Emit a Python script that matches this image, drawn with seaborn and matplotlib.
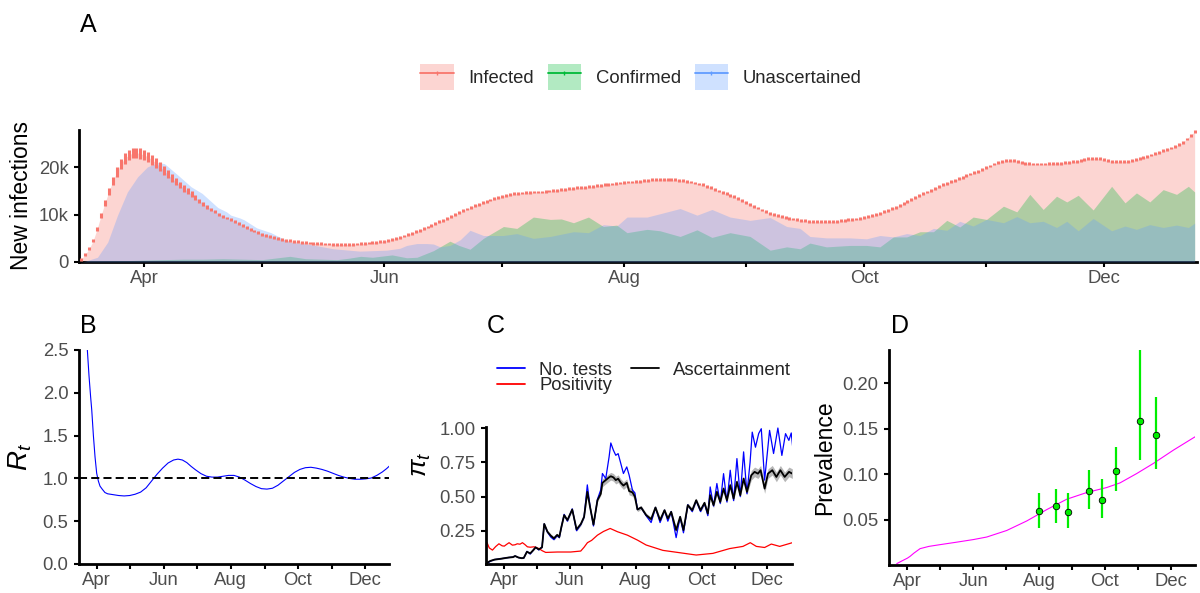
import numpy as np
import pandas as pd
import matplotlib
matplotlib.use("Agg")
import matplotlib.pyplot as plt
import seaborn as sns
from matplotlib.lines import Line2D
from matplotlib.patches import Patch

# ---------------- data ----------------
BASE = pd.Timestamp("2020-04-01")          # day 0
INFECTED_START = "2020-03-16"              # first daily estimate

# Panel A: daily new infections (thousands), from 16 Mar
infected_k = [
    0.6, 1.6, 2.8, 4.5, 7.0, 9.8, 12.5, 14.9, 17.1, 19.0, 20.7, 21.9, 22.6, 23.0, 23.1, 22.9,
    22.6, 22.2, 21.6, 20.9, 20.1, 19.3, 18.5, 17.7, 17.0, 16.3,
    15.6, 15.0, 14.3, 13.6, 12.9, 12.3, 11.7, 11.1, 10.6, 10.1,
    9.7, 9.3, 8.9, 8.5, 8.1, 7.7, 7.3, 6.9, 6.55, 6.2,
    5.9, 5.65, 5.4, 5.15, 4.95, 4.75, 4.6, 4.5, 4.4, 4.3,
    4.2, 4.1, 4.0, 3.95, 3.9, 3.85, 3.8, 3.8, 3.75, 3.7,
    3.7, 3.7, 3.7, 3.75, 3.8, 3.85, 3.9, 4.0, 4.1, 4.2,
    4.3, 4.4, 4.6, 4.8, 5.0, 5.2, 5.5, 5.8, 6.1, 6.4,
    6.7, 7.0, 7.4, 7.7, 8.1, 8.5, 8.8, 9.2, 9.6, 10.0,
    10.4, 10.8, 11.2, 11.5, 11.9, 12.2, 12.5, 12.8, 13.1, 13.4,
    13.6, 13.9, 14.1, 14.3, 14.4, 14.5, 14.6, 14.7, 14.7, 14.8,
    14.8, 14.8, 14.9, 15.0, 15.1, 15.2, 15.3, 15.4, 15.5, 15.6,
    15.7, 15.8, 15.8, 15.9, 16.0, 16.1, 16.2, 16.3, 16.4, 16.5,
    16.6, 16.7, 16.8, 16.9, 16.9, 17.0, 17.1, 17.2, 17.3, 17.4,
    17.4, 17.5, 17.5, 17.5, 17.4, 17.4, 17.3, 17.2, 17.0, 16.9,
    16.7, 16.5, 16.3, 16.0, 15.7, 15.4, 15.0, 14.7, 14.4, 14.1,
    13.8, 13.4, 13.0, 12.6, 12.2, 11.8, 11.4, 11.0, 10.6, 10.3,
    10.0, 9.8, 9.6, 9.4, 9.2, 9.1, 8.9, 8.8, 8.7, 8.6,
    8.5, 8.5, 8.5, 8.5, 8.5, 8.6, 8.6, 8.7, 8.8, 8.9,
    9.0, 9.1, 9.2, 9.4, 9.6, 9.8, 10.0, 10.3, 10.6, 10.9,
    11.3, 11.6, 12.0, 12.4, 12.8, 13.2, 13.6, 14.0, 14.4, 14.8,
    15.2, 15.6, 15.9, 16.3, 16.6, 17.0, 17.3, 17.6, 17.9, 18.3,
    18.6, 18.9, 19.2, 19.5, 19.9, 20.3, 20.7, 21.0, 21.3, 21.4,
    21.5, 21.5, 21.3, 21.1, 20.9, 20.8, 20.7, 20.7, 20.7, 20.7,
    20.8, 20.8, 20.9, 20.9, 21.0, 21.1, 21.2, 21.3, 21.5, 21.7,
    21.8, 21.9, 21.9, 21.8, 21.6, 21.4, 21.3, 21.2, 21.2, 21.2,
    21.3, 21.4, 21.6, 21.8, 22.0, 22.3, 22.6, 22.9, 23.2, 23.5,
    23.8, 24.1, 24.4, 24.8, 25.3, 26.0, 26.8, 27.5,
]
# half-width of the daily interval (thousands): wider during the first wave
infected_err_early = [0.3, 0.3, 0.3, 0.3, 0.4, 0.5, 0.6, 0.8, 0.9, 1.0, 1.05,
                      1.1, 1.1, 1.1, 1.1, 1.1, 1.1, 1.1, 1.05, 1.0, 0.95, 0.9,
                      0.85, 0.8, 0.75, 0.7, 0.7, 0.7, 0.65, 0.6, 0.5, 0.45, 0.4, 0.35]
infected_err_rest = 0.3

confirmed_days = [-16, -12, -8, -4, 0, 5, 10, 15, 20, 25, 30, 34, 37, 41, 45, 49, 52, 55, 58, 61,
                  63, 66.7, 69.3, 73.5, 77.7, 80, 82.8, 86.2, 91.3, 94.7, 98.9, 103.2, 106, 109.1,
                  112.9, 116.7, 120.1, 122.7, 127.8, 131.1, 136.2, 140.5, 144.3, 148.9, 154, 159.1,
                  163.3, 166.7, 169.2, 173.4, 179.3, 183.6, 187, 190.4, 193.8, 197.2, 200.6, 204,
                  207.3, 210.7, 214.1, 218.4, 221.8, 225.1, 228.5, 231.9, 234.5, 237.4, 241.2,
                  245.9, 249.3, 252.2, 255.6, 259, 262.4, 265.4, 267]
confirmed_k = [0.0, 0.1, 0.2, 0.3, 0.4, 0.5, 0.6, 0.6, 0.7, 0.6, 0.5, 0.9, 1.2, 0.7, 0.6, 0.5, 0.8,
               1.2, 1.0, 1.3, 1.5, 0.9, 1.0, 2.4, 4.4, 3.5, 2.7, 5.0, 7.5, 7.1, 9.5, 9.0, 9.1, 8.3,
               9.5, 7.5, 7.8, 6.2, 6.9, 6.6, 5.4, 6.8, 5.2, 6.2, 5.4, 2.5, 3.2, 2.8, 4.0, 3.2, 3.5,
               3.5, 3.2, 5.3, 5.3, 6.4, 6.4, 8.8, 7.4, 9.5, 9.0, 11.8, 10.6, 14.3, 11.1, 13.9, 12.7,
               14.1, 11.0, 16.0, 12.5, 14.6, 12.7, 15.3, 14.3, 16.0, 14.8]

unasc_days = [-16, -15.3, -11.9, -9.3, -6.8, -4.3, -1.7, 0.8, 3.4, 5.1, 8.5, 11.9, 14.7, 18.7,
              20.9, 22, 24.3, 25.4, 28.6, 32.2, 33.6, 37, 42.1, 48, 54.8, 61.6, 65, 66.7, 69.3,
              71.8, 73.5, 75.2, 77.7, 80.3, 82.8, 86.2, 91.3, 94.7, 98.9, 103.2, 109.1, 112.9,
              116.7, 120.1, 122.7, 127.8, 131.1, 136.2, 140.5, 144.3, 148.9, 154, 159.1, 163.3,
              166.7, 169.2, 173.4, 179.3, 183.6, 187, 190.4, 193.8, 197.2, 200.6, 204, 207.3,
              210.7, 214.1, 218.4, 221.8, 225.1, 228.5, 231.9, 234.5, 237.4, 241.2, 245.9, 249.3,
              252.2, 255.6, 259, 262.4, 265.4, 267]
unasc_k = [0.0, 0.1, 1.0, 4.2, 9.9, 14.8, 18.0, 20.1, 21.0, 20.8, 18.4, 15.9, 14.5, 11.5, 10.6,
           9.9, 9.3, 8.9, 7.2, 6.2, 5.6, 4.2, 3.7, 2.8, 2.3, 2.5, 2.9, 3.5, 3.9, 3.9, 3.8, 3.2,
           3.5, 4.7, 6.7, 5.6, 5.6, 6.0, 5.0, 5.4, 6.4, 6.2, 7.9, 7.6, 9.5, 9.5, 10.2, 11.3, 9.9,
           11.1, 9.5, 8.8, 9.4, 7.5, 7.1, 5.4, 5.1, 5.1, 4.9, 5.6, 5.3, 6.0, 5.6, 7.1, 6.7, 8.6,
           7.6, 9.0, 8.3, 9.6, 8.3, 8.6, 7.3, 8.6, 6.6, 9.2, 6.6, 7.6, 6.9, 7.9, 7.3, 7.8, 7.3, 8.2]

# Panel B: reproduction number
rt_days = [-9.5, -8.5, -7, -5.5, -4.5, -3, -1.5, 0, 1.5, 3, 5, 7.5, 10, 15, 20, 25, 30, 35, 40,
           45, 50, 55, 60, 65, 70, 74, 78, 82, 86, 90, 95, 100, 105, 110, 115, 120, 125, 130,
           135, 140, 145, 150, 155, 160, 165, 170, 175, 180, 185, 190, 195, 200, 205, 210, 215,
           220, 225, 230, 235, 240, 245, 250, 255, 260, 264, 266.5]
rt_values = [2.75, 2.5, 2.2, 1.95, 1.8, 1.5, 1.25, 1.06, 0.97, 0.91, 0.875, 0.835, 0.82, 0.81,
             0.8, 0.795, 0.8, 0.815, 0.84, 0.89, 0.97, 1.05, 1.12, 1.18, 1.215, 1.225, 1.215,
             1.185, 1.14, 1.1, 1.055, 1.025, 1.015, 1.015, 1.025, 1.035, 1.035, 1.015, 0.98,
             0.94, 0.905, 0.88, 0.875, 0.885, 0.92, 0.97, 1.02, 1.07, 1.105, 1.125, 1.13, 1.12,
             1.105, 1.085, 1.06, 1.035, 1.015, 1.0, 0.99, 0.99, 0.995, 1.005, 1.035, 1.075,
             1.115, 1.145]

# Panel C: ascertainment and its drivers
asc_days = [-16, -13, -9, -4, 0, 4, 8, 10, 13, 16, 18, 21, 24, 27, 29, 32, 35, 37, 40, 43, 46,
            49, 51, 53, 55.5, 58.5, 63, 67, 71, 74, 77, 79.5, 82.7, 86.4, 89.5, 91, 94.1, 97.2,
            98.8, 101.2, 103.4, 105.6, 108.1, 110.5, 113.6, 115.8, 118.9, 121.1, 123.5, 126.9,
            131.6, 136.2, 140.2, 144.5, 148.6, 151.7, 154.8, 159.4, 163.1, 166.2, 170.2, 174.3,
            178, 182, 185.7, 188.8, 191, 194.1, 197.2, 200.3, 203.4, 206.5, 209.6, 212.7, 215.8,
            218.9, 222, 225.1, 229.1, 232.2, 235.3, 237.8, 241.5, 244.6, 248.6, 252.4, 256.1,
            260.1, 264.1, 267.2]
asc_values = [0.017, 0.03, 0.04, 0.045, 0.05, 0.055, 0.058, 0.066, 0.055, 0.05, 0.052, 0.097,
              0.085, 0.11, 0.129, 0.114, 0.13, 0.30, 0.243, 0.215, 0.195, 0.22, 0.205, 0.28,
              0.364, 0.328, 0.405, 0.26, 0.30, 0.352, 0.534, 0.425, 0.295, 0.473, 0.52, 0.60,
              0.62, 0.64, 0.648, 0.64, 0.62, 0.63, 0.60, 0.58, 0.60, 0.54, 0.53, 0.50, 0.405,
              0.42, 0.364, 0.335, 0.42, 0.328, 0.40, 0.34, 0.388, 0.255, 0.352, 0.255, 0.437,
              0.40, 0.473, 0.40, 0.454, 0.376, 0.51, 0.437, 0.534, 0.461, 0.558, 0.473, 0.583,
              0.485, 0.607, 0.51, 0.631, 0.534, 0.655, 0.68, 0.667, 0.692, 0.558, 0.667, 0.692,
              0.643, 0.692, 0.643, 0.68, 0.667]
asc_halfwidth = [0.004] * 17 + [0.012] * 18 + [0.028] * 13 + [0.015] * 18 + [0.02] * 12 + [0.035] * 12

tests_days = asc_days[:78] + [228, 230, 233, 236, 238.4, 241.5, 246.1, 249.8, 253.8, 257.5,
                              260.9, 264, 266.2, 267.7]
tests_values = [0.012, 0.028, 0.04, 0.045, 0.05, 0.055, 0.058, 0.066, 0.055, 0.05, 0.05, 0.10,
                0.08, 0.11, 0.13, 0.11, 0.13, 0.30, 0.24, 0.205, 0.185, 0.215, 0.20, 0.28, 0.37,
                0.32, 0.41, 0.25, 0.295, 0.35, 0.585, 0.43, 0.285, 0.48, 0.55, 0.668, 0.631,
                0.789, 0.891, 0.838, 0.801, 0.813, 0.74, 0.668, 0.716, 0.656, 0.546, 0.527,
                0.405, 0.42, 0.36, 0.31, 0.42, 0.31, 0.40, 0.32, 0.39, 0.20, 0.35, 0.235, 0.44,
                0.39, 0.47, 0.39, 0.45, 0.36, 0.57, 0.43, 0.595, 0.45, 0.667, 0.46, 0.692, 0.47,
                0.777, 0.50, 0.826, 0.52,
                0.75, 0.97, 0.86, 0.96, 0.995, 0.62, 0.983, 0.814, 1.0, 0.80, 0.959, 0.91, 0.964, 0.85]

pos_days = [-16, -14, -11, -8, -5, -2, 0, 2, 4.4, 7.5, 10, 12, 14.5, 16.8, 19, 21.4, 24, 27.6,
            32.2, 35, 38.4, 49.2, 61.6, 70.9, 74, 77.1, 81, 86.4, 92, 98.2, 105, 114.2, 123.5,
            131.6, 147.1, 162.6, 178, 193.5, 209, 221.4, 228.2, 233.8, 241.5, 247.7, 255.5, 267.2]
pos_values = [0.163, 0.125, 0.109, 0.135, 0.155, 0.14, 0.138, 0.15, 0.163, 0.145, 0.148, 0.155,
              0.152, 0.163, 0.15, 0.133, 0.13, 0.133, 0.12, 0.105, 0.092, 0.095, 0.095, 0.102,
              0.13, 0.163, 0.18, 0.218, 0.245, 0.267, 0.243, 0.218, 0.182, 0.146, 0.107, 0.09,
              0.073, 0.085, 0.12, 0.136, 0.163, 0.136, 0.128, 0.153, 0.136, 0.163]

# Panel D: modelled prevalence and survey estimates
prev_days = [-9.8, -5, 0, 2.5, 6, 11.8, 20, 30.3, 45, 61.2, 73.6, 92.1, 110.7, 129.2, 147.7,
             166.3, 184.8, 197.1, 212.6, 228, 246.5, 266.6]
prev_values = [0.0015, 0.0045, 0.0075, 0.0095, 0.013, 0.018, 0.0205, 0.0224, 0.025, 0.028,
               0.0308, 0.038, 0.0485, 0.061, 0.0724, 0.0798, 0.0853, 0.0904, 0.1007, 0.1118,
               0.1264, 0.1411]
survey_dates = ["2020-08-01", "2020-08-17", "2020-08-28", "2020-09-16", "2020-09-28",
                "2020-10-11", "2020-11-03", "2020-11-17"]
survey_est = [0.0592, 0.065, 0.0584, 0.082, 0.072, 0.104, 0.159, 0.1433]
survey_lo = [0.0407, 0.0463, 0.0407, 0.0614, 0.0518, 0.0816, 0.1154, 0.1055]
survey_hi = [0.0798, 0.0842, 0.0798, 0.1051, 0.0952, 0.1297, 0.25, 0.1846]

month_ticks = ["2020-04-01", "2020-05-01", "2020-06-01", "2020-07-01", "2020-08-01",
               "2020-09-01", "2020-10-01", "2020-11-01", "2020-12-01"]
month_labels = ["Apr", "", "Jun", "", "Aug", "", "Oct", "", "Dec"]

series_names = ["Infected", "Confirmed", "Unascertained"]
series_colors = ["#F8766D", "#00BA38", "#619CFF"]
c_names = ["No. tests", "Positivity", "Ascertainment"]
c_colors = ["blue", "red", "black"]


def to_dates(days):
    return (BASE + pd.to_timedelta(np.asarray(days, dtype=float), unit="D")).to_numpy()


# ---------------- style ----------------
sns.set_theme(style="ticks")
plt.rcParams.update({
    "font.family": ["Liberation Sans", "DejaVu Sans"],
    "mathtext.fontset": "custom",
    "mathtext.rm": "Liberation Sans",
    "mathtext.it": "Liberation Sans:italic",
    "mathtext.bf": "Liberation Sans:bold",
    "axes.linewidth": 2.0,
    "axes.edgecolor": "black",
    "axes.labelcolor": "black",
    "xtick.color": "black", "ytick.color": "black",
    "xtick.labelcolor": "#4D4D4D", "ytick.labelcolor": "#4D4D4D",
    "xtick.major.size": 3.6, "ytick.major.size": 3.6,
    "xtick.major.width": 1.5, "ytick.major.width": 1.5,
    "xtick.labelsize": 13.3, "ytick.labelsize": 13.3,
    "xtick.major.pad": 2.5, "ytick.major.pad": 4.0,
    "axes.labelsize": 16.5,
    "lines.scale_dashes": False,
})

W, H = 1200, 593
fig = plt.figure(figsize=(W / 100, H / 100), dpi=100)


def px_axes(left, top, right, bottom):
    return fig.add_axes([left / W, 1 - bottom / H, (right - left) / W, (bottom - top) / H])


def date_axis(ax, lo, hi):
    ax.set_xlim(BASE + pd.Timedelta(days=lo), BASE + pd.Timedelta(days=hi))
    ax.set_xticks(pd.to_datetime(month_ticks).to_pydatetime())
    ax.set_xticklabels(month_labels)
    ax.set_xlabel("")
    sns.despine(ax=ax)


# ---------------- panel A ----------------
axA = px_axes(79, 130, 1197, 262)
inf_dates = pd.date_range(INFECTED_START, periods=len(infected_k), freq="D").to_numpy()
inf_err = infected_err_early + [infected_err_rest] * (len(infected_k) - len(infected_err_early))

axA.fill_between(inf_dates, 0, infected_k, color=series_colors[0], alpha=0.3, lw=0, zorder=1)
axA.fill_between(to_dates(confirmed_days), 0, confirmed_k, color=series_colors[1], alpha=0.3,
                 lw=0, zorder=2)
axA.fill_between(to_dates(unasc_days), 0, unasc_k, color=series_colors[2], alpha=0.3, lw=0,
                 zorder=3)
eb = axA.errorbar(inf_dates, infected_k, yerr=inf_err, fmt="none", ecolor=series_colors[0],
                  elinewidth=2.2, capsize=0, zorder=4)
for lc in eb[2]:
    lc.set_capstyle("butt")
axA.set_ylim(0, 27.9)
axA.set_yticks([0, 10, 20])
axA.set_yticklabels(["0", "10k", "20k"])
date_axis(axA, -16.6, 267.6)
axA.set_ylabel("New infections")
axA.yaxis.set_label_coords(-0.041, 0.5)

handlesA = [(Patch(facecolor=c, alpha=0.3, edgecolor="none"),
             Line2D([], [], color=c, lw=1.3, marker="|", markersize=2.5, markeredgewidth=1.0))
            for c in series_colors]
fig.legend(handlesA, series_names, loc="center", bbox_to_anchor=(641 / W, 1 - 77 / H), ncol=3,
           frameon=False, handlelength=1.8, handleheight=1.8, handletextpad=0.8,
           columnspacing=0.75, fontsize=13.3, borderpad=0, borderaxespad=0)

# ---------------- panel B ----------------
axB = px_axes(79, 350, 389, 564)
sns.lineplot(x=to_dates(rt_days), y=rt_values, ax=axB, color="blue", lw=0.8, estimator=None,
             sort=False)
axB.axhline(1.0, color="black", lw=1.4, dashes=(5.8, 3.0))
axB.set_ylim(0, 2.5)
axB.set_yticks([0, 0.5, 1.0, 1.5, 2.0, 2.5])
axB.set_yticklabels(["0.0", "0.5", "1.0", "1.5", "2.0", "2.5"])
date_axis(axB, -16.1, 266.1)
axB.set_ylabel(r"$R_t$", fontsize=20)
axB.yaxis.set_label_coords(-0.145, 0.5)

# ---------------- panel C ----------------
axC = px_axes(486, 427, 792, 564)
asc_d = to_dates(asc_days)
asc_v = np.array(asc_values)
asc_h = np.array(asc_halfwidth)
axC.fill_between(asc_d, asc_v - asc_h, asc_v + asc_h, color="#9E9E9E", alpha=0.75, lw=0, zorder=1)
sns.lineplot(x=to_dates(tests_days), y=tests_values, ax=axC, color=c_colors[0], lw=0.9,
             estimator=None, sort=False, zorder=2)
sns.lineplot(x=to_dates(pos_days), y=pos_values, ax=axC, color=c_colors[1], lw=0.9,
             estimator=None, sort=False, zorder=2)
sns.lineplot(x=asc_d, y=asc_values, ax=axC, color=c_colors[2], lw=1.3, estimator=None,
             sort=False, zorder=3)
axC.set_ylim(0.0075, 1.0075)
axC.set_yticks([0.25, 0.5, 0.75, 1.0])
axC.set_yticklabels(["0.25", "0.50", "0.75", "1.00"])
date_axis(axC, -17.0, 266.9)
axC.set_ylabel(r"$\pi_t$", fontsize=19)
axC.yaxis.set_label_coords(-0.173, 0.73)
handlesC = [Line2D([], [], color=c, lw=1.3) for c in c_colors]
fig.legend(handlesC, c_names, loc="center left", bbox_to_anchor=(497 / W, 1 - 378 / H), ncol=2,
           frameon=False, handlelength=1.5, handletextpad=0.8, columnspacing=1.0,
           labelspacing=-0.1, fontsize=13.3, borderpad=0, borderaxespad=0)

# ---------------- panel D ----------------
axD = px_axes(889, 350, 1195, 565)
sns.lineplot(x=to_dates(prev_days), y=prev_values, ax=axD, color="magenta", lw=0.8,
             estimator=None, sort=False)
sd = pd.to_datetime(survey_dates).to_numpy()
axD.vlines(sd, survey_lo, survey_hi, color="#00EE00", lw=1.6, zorder=3)
sns.scatterplot(x=sd, y=survey_est, ax=axD, color="#00EE00", edgecolor="black", s=22,
                linewidth=0.6, zorder=4)
axD.set_ylim(0, 0.2367)
axD.set_yticks([0.05, 0.10, 0.15, 0.20])
axD.set_yticklabels(["0.05", "0.10", "0.15", "0.20"])
date_axis(axD, -17.0, 266.6)
axD.set_ylabel("Prevalence")
axD.yaxis.set_label_coords(-0.173, 0.5)

# ---------------- panel tags ----------------
for tag, x, y in [("A", 80, 32), ("B", 80, 333), ("C", 487, 333), ("D", 891, 333)]:
    fig.text(x / W, 1 - y / H, tag, fontsize=18, ha="left", va="baseline", color="black")

fig.savefig("out.png", dpi=100)
